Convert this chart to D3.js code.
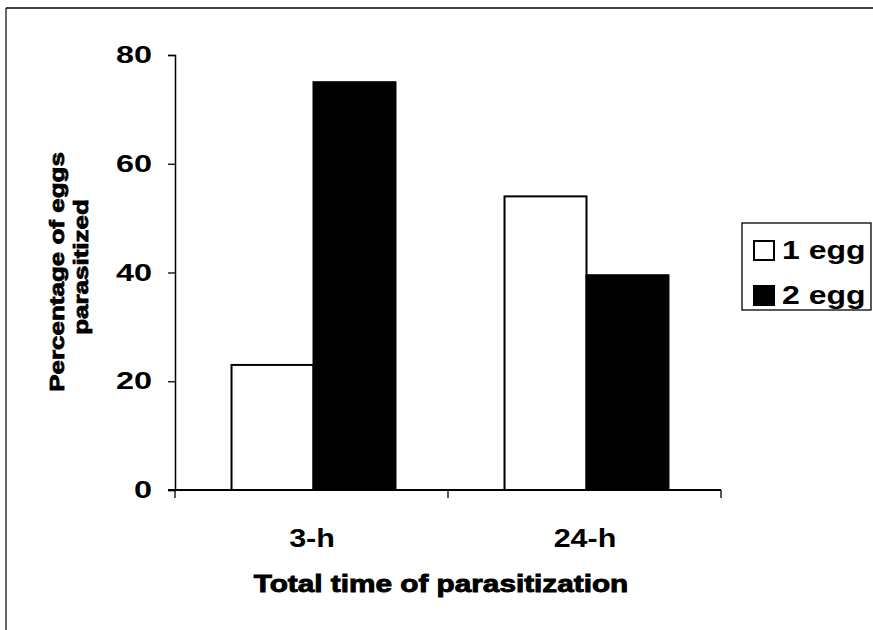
<!DOCTYPE html>
<html><head><meta charset="utf-8">
<script src="https://cdn.jsdelivr.net/npm/d3@7"></script>
<style>body{margin:0;background:#fff}svg{display:block}text{font-family:"Liberation Sans",Arial,sans-serif;font-weight:bold}</style>
</head><body>
<script>
const categories = ["3-h", "24-h"];
const seriesNames = ["1 egg", "2 egg"];
const oneEgg = [23, 54];
const twoEgg = [75, 39.5];
const yTicks = [0, 20, 40, 60, 80];

const W = 873, H = 630;
const svg = d3.select("body").append("svg").attr("width", W).attr("height", H);
const m = {left: 175, right: 721, top: 55, bottom: 490};

// outer frame (top and left visible)
svg.append("line").attr("x1", 6).attr("x2", W).attr("y1", 8).attr("y2", 8).attr("stroke", "#000").attr("stroke-width", 1.5);
svg.append("line").attr("x1", 6).attr("x2", 6).attr("y1", 8).attr("y2", H).attr("stroke", "#000").attr("stroke-width", 1.2);

const x = d3.scaleBand().domain(categories).range([m.left, m.right]).paddingInner(0).paddingOuter(0);
const y = d3.scaleLinear().domain([0, 80]).range([m.bottom, m.top]);
const xs = d3.scaleBand().domain(seriesNames).range([0, x.bandwidth()]).paddingInner(0).paddingOuter(0.665);

const data = categories.map((c, i) => ({cat: c, vals: [oneEgg[i], twoEgg[i]]}));
const fills = ["#fff", "#000"];

// stretched text helper (reference glyphs are wide)
function stext(sel, tx, ty, str, size, sx, anchor, rot) {
  return sel.append("text")
    .attr("transform", `translate(${tx},${ty})` + (rot ? ` rotate(${rot})` : "") + ` scale(${sx},1)`)
    .attr("text-anchor", anchor).attr("font-size", size).attr("fill", "#000")
    .text(str);
}

const g = svg.append("g");
data.forEach(d => {
  d.vals.forEach((v, j) => {
    g.append("rect")
      .attr("x", x(d.cat) + xs(seriesNames[j]) + 2)
      .attr("y", y(v))
      .attr("width", xs.bandwidth())
      .attr("height", y(0) - y(v))
      .attr("fill", fills[j])
      .attr("stroke", "#000").attr("stroke-width", 2);
  });
});

// y axis
const yAxis = d3.axisLeft(y).tickValues(yTicks).tickSize(7).tickFormat("");
const ya = svg.append("g").attr("transform", `translate(${m.left},0)`).call(yAxis);
ya.select(".domain").attr("stroke-width", 1.5);
ya.selectAll(".tick line").attr("stroke-width", 1.3);
yTicks.forEach(t => {
  stext(svg, m.left - 23, y(t) + 8, String(t), 24, 1.35, "end");
});

// x axis with ticks at category boundaries
const xa = svg.append("g").attr("transform", `translate(0,${m.bottom})`);
xa.append("line").attr("x1", m.left - 7).attr("x2", m.right).attr("y1", 0).attr("y2", 0).attr("stroke", "#000").attr("stroke-width", 1.8);
const bounds = [x(categories[0]), x(categories[1]), x(categories[1]) + x.bandwidth()];
xa.selectAll("line.bt").data(bounds).join("line").attr("class", "bt")
  .attr("x1", d => d).attr("x2", d => d).attr("y1", 0).attr("y2", 8).attr("stroke", "#000").attr("stroke-width", 1.3);
categories.forEach(c => {
  stext(svg, x(c) + x.bandwidth() / 2 + 0.5, 547, c, 25, 1.22, "middle");
});

// axis titles
stext(svg, 441, 592, "Total time of parasitization", 24, 1.24, "middle")
  .attr("stroke", "#000").attr("stroke-width", 0.9);
stext(svg, 64, 272, "Percentage of eggs", 19.4, 1.34, "middle", -90)
  .attr("stroke", "#000").attr("stroke-width", 0.8);
stext(svg, 88, 267, "parasitized", 19.4, 1.34, "middle", -90)
  .attr("stroke", "#000").attr("stroke-width", 0.8);

// legend
const lg = svg.append("g");
lg.append("rect").attr("x", 742).attr("y", 223).attr("width", 129).attr("height", 87)
  .attr("fill", "#fff").attr("stroke", "#000").attr("stroke-width", 1.3);
seriesNames.forEach((s, i) => {
  const cy = 250 + i * 45;
  lg.append("rect").attr("x", 754).attr("y", cy - 9).attr("width", 20).attr("height", 19)
    .attr("fill", fills[i]).attr("stroke", "#000").attr("stroke-width", 2);
  stext(lg, 782, cy + 9, s, 25, 1.28, "start");
});
</script>
</body></html>
